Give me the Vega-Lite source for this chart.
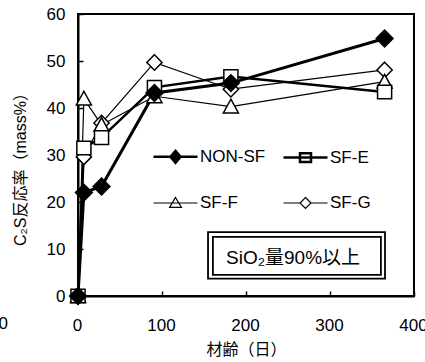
{
  "$schema": "https://vega.github.io/schema/vega-lite/v6.json",
  "width": 336,
  "height": 282,
  "autosize": {"type": "none"},
  "padding": {"left": 78, "top": 14, "right": 11, "bottom": 66},
  "background": "white",
  "config": {
    "font": "Liberation Sans, Noto Sans CJK JP",
    "view": {"stroke": "black", "strokeWidth": 2},
    "axis": {
      "domainColor": "black",
      "domainWidth": 2,
      "tickColor": "black",
      "tickWidth": 1.5,
      "tickSize": -5,
      "labelColor": "black",
      "labelFontSize": 17,
      "labelFont": "Liberation Sans, Noto Sans CJK JP",
      "titleFont": "Liberation Sans, Noto Sans CJK JP",
      "titleFontSize": 16,
      "titleFontWeight": "normal",
      "titleColor": "black",
      "grid": false,
      "labelFlush": false,
      "labelOverlap": false
    }
  },
  "data": {
    "values": [
      {"series": "SF-G", "age": 0, "rate": 0},
      {"series": "SF-G", "age": 7, "rate": 29.6},
      {"series": "SF-G", "age": 28, "rate": 36.8},
      {"series": "SF-G", "age": 91, "rate": 49.7},
      {"series": "SF-G", "age": 182, "rate": 44.0},
      {"series": "SF-G", "age": 365, "rate": 48.1},
      {"series": "SF-F", "age": 0, "rate": 0},
      {"series": "SF-F", "age": 7, "rate": 42.0},
      {"series": "SF-F", "age": 28, "rate": 36.4},
      {"series": "SF-F", "age": 91, "rate": 42.5},
      {"series": "SF-F", "age": 182, "rate": 40.3},
      {"series": "SF-F", "age": 365, "rate": 45.6},
      {"series": "SF-E", "age": 0, "rate": 0},
      {"series": "SF-E", "age": 7, "rate": 31.5},
      {"series": "SF-E", "age": 28, "rate": 33.7},
      {"series": "SF-E", "age": 91, "rate": 44.4},
      {"series": "SF-E", "age": 182, "rate": 46.7},
      {"series": "SF-E", "age": 365, "rate": 43.4},
      {"series": "NON-SF", "age": 0, "rate": 0},
      {"series": "NON-SF", "age": 7, "rate": 22.0},
      {"series": "NON-SF", "age": 28, "rate": 23.3},
      {"series": "NON-SF", "age": 91, "rate": 43.2},
      {"series": "NON-SF", "age": 182, "rate": 45.3},
      {"series": "NON-SF", "age": 365, "rate": 54.8}
    ]
  },
  "resolve": {
    "scale": {"shape": "independent", "fill": "independent", "strokeWidth": "independent"}
  },
  "layer": [
    {
      "mark": {"type": "line", "color": "black"},
      "encoding": {
        "x": {
          "field": "age",
          "type": "quantitative",
          "scale": {"domain": [0, 400]},
          "axis": {
            "values": [0, 100, 200, 300, 400],
            "title": "材齢（日）",
            "labelPadding": 26,
            "labelOffset": -1,
            "titleBaseline": "middle",
            "titleY": 53
          }
        },
        "y": {
          "field": "rate",
          "type": "quantitative",
          "scale": {"domain": [0, 60]},
          "axis": {
            "values": [0, 10, 20, 30, 40, 50, 60],
            "title": "C₂S反応率（mass%）",
            "labelPadding": 18,
            "titleBaseline": "middle",
            "titleX": -58,
            "titleY": 151
          }
        },
        "detail": {"field": "series"},
        "strokeWidth": {
          "field": "series",
          "type": "nominal",
          "scale": {"type": "ordinal", "domain": ["NON-SF", "SF-E", "SF-F", "SF-G"], "range": [3, 2.5, 1.2, 1.2]},
          "legend": null
        }
      }
    },
    {
      "description": "plotted markers",
      "mark": {"type": "point", "stroke": "black", "opacity": 1, "strokeWidth": 1.5, "size": 256},
      "encoding": {
        "x": {"field": "age", "type": "quantitative"},
        "y": {"field": "rate", "type": "quantitative"},
        "fill": {
          "field": "series",
          "type": "nominal",
          "scale": {"domain": ["NON-SF", "SF-E", "SF-F", "SF-G"], "range": ["black", "white", "white", "white"]},
          "legend": null
        },
        "shape": {
          "field": "series",
          "type": "nominal",
          "scale": {
            "domain": ["NON-SF", "SF-E", "SF-F", "SF-G"],
            "range": [
              "M0,-1.05L1.05,0L0,1.05L-1.05,0Z",
              "M-0.88,-0.85H0.88V0.85H-0.88Z",
              "M0,-0.92L0.94,0.8L-0.94,0.8Z",
              "M0,-0.97L0.95,0L0,0.97L-0.95,0Z"
            ]
          },
          "legend": null
        }
      }
    },
    {
      "description": "legend carrier: line-and-marker keys for the four series",
      "mark": {"type": "point", "stroke": "black", "opacity": 0, "size": 1936},
      "encoding": {
        "x": {"field": "age", "type": "quantitative"},
        "y": {"field": "rate", "type": "quantitative"},
        "fill": {
          "field": "series",
          "type": "nominal",
          "scale": {"domain": ["NON-SF", "SF-E", "SF-F", "SF-G"], "range": ["black", "white", "white", "white"]}
        },
        "strokeWidth": {
          "field": "series",
          "type": "nominal",
          "scale": {"type": "ordinal", "domain": ["NON-SF", "SF-E", "SF-F", "SF-G"], "range": [2.5, 2.5, 1.2, 1.2]}
        },
        "shape": {
          "field": "series",
          "type": "nominal",
          "scale": {
            "domain": ["NON-SF", "SF-E", "SF-F", "SF-G"],
            "range": [
              "M-1,0H1M0,-0.27L0.23,0L0,0.27L-0.23,0Z",
              "M-1,0H1M-0.25,-0.2H0.25V0.2H-0.25Z",
              "M-1,0H1M0,-0.25L0.27,0.2L-0.27,0.2Z",
              "M-1,0H-0.25M0.25,0H1M0,-0.25L0.25,0L0,0.25L-0.25,0Z"
            ]
          },
          "legend": {
            "orient": "none",
            "legendX": 74,
            "legendY": 119,
            "direction": "horizontal",
            "columns": 2,
            "title": null,
            "padding": 0,
            "symbolSize": 1936,
            "symbolOpacity": 1,
            "labelFontSize": 17,
            "labelFont": "Liberation Sans, Noto Sans CJK JP",
            "labelColor": "black",
            "labelOffset": 1,
            "columnPadding": 12,
            "rowPadding": 12
          }
        }
      }
    },
    {
      "data": {"values": [{}]},
      "mark": {"type": "rect", "fill": "white", "stroke": "black", "strokeWidth": 1.8},
      "encoding": {
        "x": {"datum": 154.8},
        "x2": {"datum": 365.5},
        "y": {"datum": 13.6},
        "y2": {"datum": 3.7}
      }
    },
    {
      "data": {"values": [{}]},
      "mark": {"type": "rect", "fillOpacity": 0, "stroke": "black", "strokeWidth": 1.8},
      "encoding": {
        "x": {"datum": 160.6},
        "x2": {"datum": 360.6},
        "y": {"datum": 12.6},
        "y2": {"datum": 4.5}
      }
    },
    {
      "data": {"values": [{}]},
      "mark": {"type": "text", "text": "SiO₂量90%以上", "fontSize": 19, "fontWeight": "normal", "font": "Liberation Sans, Noto Sans CJK JP", "color": "black", "align": "center", "baseline": "middle"},
      "encoding": {
        "x": {"datum": 256},
        "y": {"datum": 8.1}
      }
    },
    {
      "description": "tick label of the -100 day position, which falls left of the plotted range",
      "data": {"values": [{}]},
      "mark": {"type": "text", "text": "-100", "fontSize": 17, "font": "Liberation Sans, Noto Sans CJK JP", "color": "black", "align": "right", "baseline": "middle", "dx": 14},
      "encoding": {
        "x": {"datum": -100},
        "y": {"datum": -6.0}
      }
    }
  ]
}
